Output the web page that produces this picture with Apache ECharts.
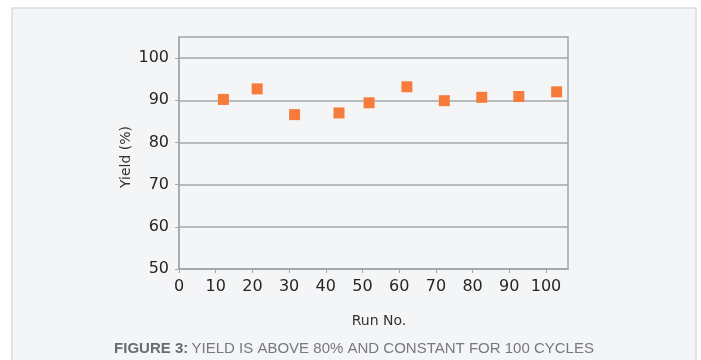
<!DOCTYPE html>
<html>
<head>
<meta charset="utf-8">
<script src="https://cdn.jsdelivr.net/npm/echarts@6/dist/echarts.min.js"></script>
<style>
  html, body { margin: 0; padding: 0; background: #ffffff; }
  #chart { width: 701px; height: 360px; }
</style>
</head>
<body>
<div id="chart"></div>
<script>
// Run number and measured yield for each cycle sampled
const runNumbers = [12.1, 21.3, 31.5, 43.6, 51.8, 62.1, 72.3, 82.5, 92.6, 102.9];
const yieldPercent = [90.2, 92.7, 86.6, 87.0, 89.4, 93.2, 89.9, 90.7, 90.9, 92.0];

// Tick labels shown on each axis
const xTickValues = [0, 10, 20, 30, 40, 50, 60, 70, 80, 90, 100];
const yTickValues = [50, 60, 70, 80, 90, 100];

const xAxisTitle = 'Run No.';
const yAxisTitle = 'Yield (%)';
const captionLead = 'FIGURE 3:';
const captionText = 'YIELD IS ABOVE 80% AND CONSTANT FOR 100 CYCLES';

const chart = echarts.init(document.getElementById('chart'), null, { renderer: 'canvas' });

const axisGrey = '#A3A7AB';
const tickFont = { fontFamily: 'DejaVu Sans', fontSize: 16, color: '#262626' };

chart.setOption({
  backgroundColor: '#ffffff',
  animation: false,
  graphic: [
    {
      type: 'rect',
      z: -10,
      shape: { x: 12, y: 8, width: 684, height: 360 },
      style: { fill: '#F4F5F7', stroke: '#D9DBDE', lineWidth: 1.5 }
    },
    {
      type: 'text',
      z: 10,
      x: 126, y: 157,
      rotation: Math.PI / 2,
      style: {
        text: yAxisTitle,
        fontFamily: 'DejaVu Sans', fontSize: 14, fill: '#333333',
        align: 'center', verticalAlign: 'middle'
      }
    },
    {
      type: 'text',
      z: 10,
      x: 379, y: 321,
      style: {
        text: xAxisTitle,
        fontFamily: 'DejaVu Sans', fontSize: 14, fill: '#333333',
        align: 'center', verticalAlign: 'middle'
      }
    },
    {
      type: 'text',
      z: 10,
      x: 354, y: 349,
      style: {
        text: '{b|' + captionLead + '} {n|' + captionText + '}',
        align: 'center', verticalAlign: 'middle',
        rich: {
          b: { fontFamily: 'Liberation Sans', fontWeight: 'bold', fontSize: 15, fill: '#6A6C6F' },
          n: { fontFamily: 'Liberation Sans', fontSize: 15, fill: '#77797C' }
        }
      }
    }
  ],
  grid: {
    left: 179, right: 133, top: 37, bottom: 91,
    show: true,
    backgroundColor: 'transparent',
    borderColor: axisGrey,
    borderWidth: 1.5
  },
  xAxis: {
    type: 'value',
    min: 0, max: 106,
    axisLine: { show: true, lineStyle: { color: axisGrey, width: 1.5 } },
    axisTick: { show: true, length: 4, customValues: xTickValues, lineStyle: { color: axisGrey } },
    axisLabel: Object.assign({ margin: 10, customValues: xTickValues }, tickFont),
    splitLine: { show: false }
  },
  yAxis: {
    type: 'value',
    min: 50, max: 105, interval: 10,
    axisLine: { show: true, lineStyle: { color: axisGrey, width: 1.5 } },
    axisTick: { show: true, length: 4, customValues: yTickValues, lineStyle: { color: axisGrey } },
    axisLabel: Object.assign({ margin: 10, customValues: yTickValues }, tickFont),
    splitLine: { show: true, lineStyle: { color: axisGrey, width: 1.5 } }
  },
  series: [
    {
      type: 'scatter',
      symbol: 'rect',
      symbolSize: 11,
      itemStyle: { color: '#F77C3B', opacity: 1 },
      data: runNumbers.map((x, i) => [x, yieldPercent[i]])
    }
  ]
});
</script>
</body>
</html>
